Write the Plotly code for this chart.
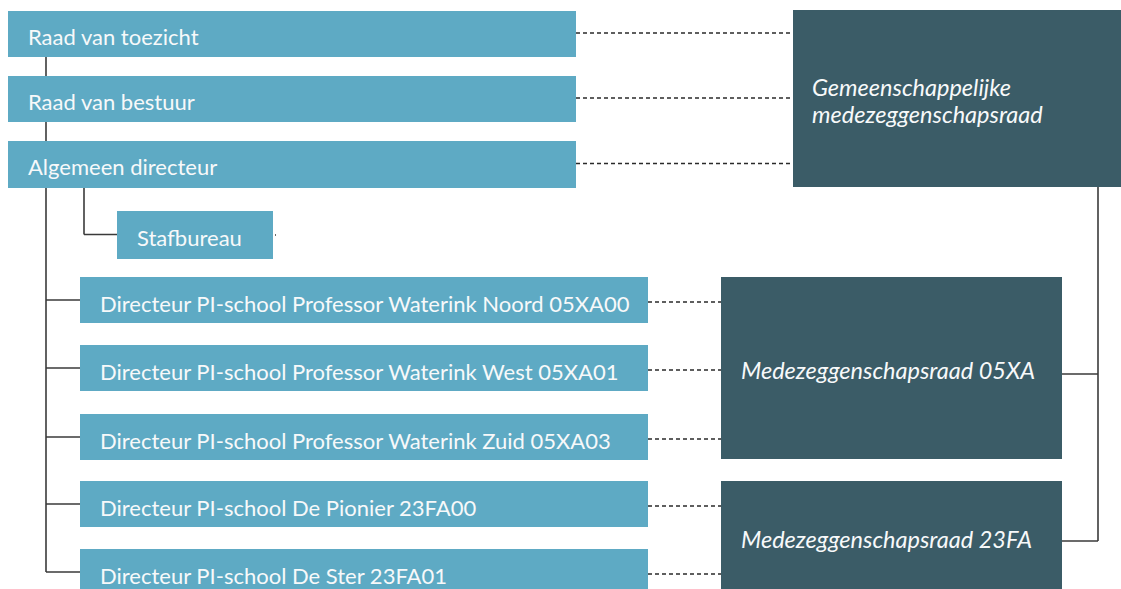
import plotly.graph_objects as go

# ---------------- data ----------------
governance = ["Raad van toezicht", "Raad van bestuur", "Algemeen directeur"]
staff = ["Stafbureau"]
schools = [
    "Directeur PI-school Professor Waterink Noord 05XA00",
    "Directeur PI-school Professor Waterink West 05XA01",
    "Directeur PI-school Professor Waterink Zuid 05XA03",
    "Directeur PI-school De Pionier 23FA00",
    "Directeur PI-school De Ster 23FA01",
]
councils = ["Medezeggenschapsraad 05XA", "Medezeggenschapsraad 23FA"]
school_council = [0, 0, 0, 1, 1]
joint_council = ["Gemeenschappelijke", "medezeggenschapsraad"]

# ---------------- layout geometry (pixels) ----------------
W, H = 1121, 589
LIGHT = "#5EAAC4"
DARK = "#3B5C67"
LINE = "#3A3A3A"
DASHC = "#2A2A2A"
TXT = "#F7F9FA"
FONT = "Lato"
FS = 22
FS_IT = 23.5

gov_x = (8, 576)
gov_y = [(11, 57), (76, 122), (141, 188)]
staff_x = (117, 273)
staff_y = (211, 259)
school_x = (80, 648)
school_y = [(277, 323), (345, 391), (414, 460), (481, 527), (549, 595)]
council_x = (721, 1062)
council_y = [(277, 459), (481, 620)]
joint_x = (793, 1125)
joint_y = (10, 187)
joint_text_y = [87, 114]
trunk_x = 46
staff_trunk_x = 84
right_trunk_x = 1098
pad = 18

shapes = []
annotations = []


def line(x0, y0, x1, y1, dash="solid", width=1.6, color=LINE):
    shapes.append(dict(type="line", xref="x", yref="y", x0=x0, y0=y0, x1=x1, y1=y1,
                       line=dict(color=color, width=width, dash=dash), layer="above"))


def box(x, y, color):
    shapes.append(dict(type="rect", xref="x", yref="y", x0=x[0], y0=y[0], x1=x[1], y1=y[1],
                       fillcolor=color, line=dict(width=0), layer="above"))


def label(x, y, text, italic=False):
    annotations.append(dict(x=x, y=y, xref="x", yref="y", text=text, showarrow=False,
                            xanchor="left", yanchor="middle", align="left",
                            font=dict(family=FONT, size=FS_IT if italic else FS, color=TXT,
                                      style="italic" if italic else "normal")))


def mid(r):
    return (r[0] + r[1]) / 2


# connectors (drawn first so boxes cover them)
line(trunk_x, gov_y[0][1], trunk_x, mid((school_y[-1][0], school_y[-1][0] + 46)))
line(staff_trunk_x, gov_y[2][1], staff_trunk_x, mid(staff_y) - 0.5)
line(staff_trunk_x, mid(staff_y) - 0.5, staff_x[0], mid(staff_y) - 0.5)
for i, _ in enumerate(schools):
    yc = mid((school_y[i][0], school_y[i][0] + 46))
    line(trunk_x, yc, school_x[0], yc)
    line(school_x[1], yc + 2, council_x[0], yc + 2, dash="4px,3px", width=1.3, color=DASHC)
for i, _ in enumerate(governance):
    yc = mid(gov_y[i]) - 1
    line(gov_x[1], yc, joint_x[0], yc, dash="4px,3px", width=1.3, color=DASHC)
council_mid = [374, 541]
for i, _ in enumerate(councils):
    line(council_x[1], council_mid[i], right_trunk_x, council_mid[i])
line(right_trunk_x, joint_y[1], right_trunk_x, council_mid[-1])
# small dot right of Stafbureau
line(staff_x[1] + 2, mid(staff_y), staff_x[1] + 3, mid(staff_y), width=1.5)

# boxes and labels
for i, t in enumerate(governance):
    box(gov_x, gov_y[i], LIGHT)
    label(gov_x[0] + pad, mid(gov_y[i]) + 2, t)
for i, t in enumerate(staff):
    box(staff_x, staff_y, LIGHT)
    label(staff_x[0] + pad, mid(staff_y) + 2, t)
for i, t in enumerate(schools):
    box(school_x, school_y[i], LIGHT)
    label(school_x[0] + pad, mid((school_y[i][0], school_y[i][0] + 46)) + 3, t)
box(joint_x, joint_y, DARK)
for i, t in enumerate(joint_council):
    label(joint_x[0] + 17, joint_text_y[i], t, italic=True)
council_text_y = [370, 539]
for i, t in enumerate(councils):
    box(council_x, council_y[i], DARK)
    label(council_x[0] + 18, council_text_y[i], t, italic=True)

fig = go.Figure()
fig.add_trace(go.Scatter(x=[0, W], y=[0, H], mode="markers", marker=dict(opacity=0),
                         hoverinfo="skip", showlegend=False))
fig.update_layout(
    width=W, height=H,
    margin=dict(l=0, r=0, t=0, b=0),
    paper_bgcolor="white", plot_bgcolor="white",
    shapes=shapes, annotations=annotations,
    xaxis=dict(range=[0, W], visible=False, fixedrange=True),
    yaxis=dict(range=[H, 0], visible=False, fixedrange=True),
    showlegend=False,
)
fig.write_html("out.html", config=dict(displayModeBar=False),
               post_script="document.body.style.margin='0';document.body.style.overflow='hidden';")
